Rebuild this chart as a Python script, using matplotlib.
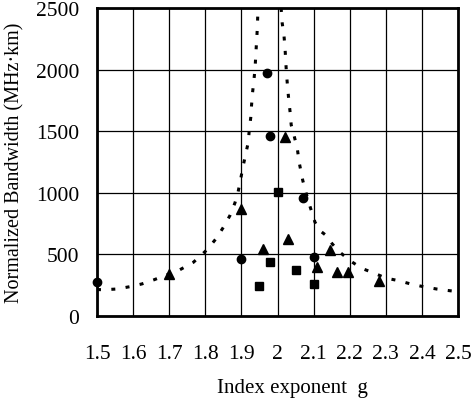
import numpy as np
import matplotlib.pyplot as plt

plt.rcParams['font.family'] = ['Liberation Serif', 'DejaVu Serif']
plt.rcParams['font.size'] = 15.5

# Measured bandwidth, grouped by marker
circle_g = [1.50, 1.90, 1.97, 1.98, 2.07, 2.10]
circle_b = [275, 460, 1975, 1465, 955, 480]

triangle_g = [1.70, 1.90, 1.96, 2.02, 2.03, 2.11, 2.145, 2.165, 2.195, 2.28]
triangle_b = [340, 865, 540, 1450, 622, 395, 535, 360, 360, 285]

square_g = [1.95, 1.98, 2.00, 2.05, 2.10]
square_b = [245, 435, 1005, 375, 260]

# Theoretical curve, left and right of the peak
left_g = [1.500, 1.517, 1.555, 1.591, 1.624, 1.656, 1.700, 1.725, 1.767, 1.785,
          1.806, 1.831, 1.850, 1.868, 1.882, 1.891, 1.898, 1.905, 1.912, 1.919,
          1.922, 1.926, 1.928, 1.931, 1.935, 1.938, 1.940, 1.942, 1.944, 1.946]
left_b = [215, 213, 219, 238, 260, 292, 341, 368, 436, 484,
          541, 632, 720, 814, 917, 1009, 1112, 1220, 1315, 1410,
          1518, 1613, 1707, 1816, 1924, 2019, 2127, 2227, 2330, 2500]

right_g = [2.010, 2.013, 2.018, 2.021, 2.023, 2.025, 2.028, 2.031, 2.035, 2.038,
           2.046, 2.055, 2.060, 2.070, 2.085, 2.104, 2.118, 2.132, 2.152, 2.173,
           2.201, 2.233, 2.267, 2.300, 2.335, 2.369, 2.404, 2.441, 2.478, 2.500]
right_b = [2500, 2378, 2275, 2167, 2059, 1964, 1856, 1761, 1653, 1550,
           1463, 1356, 1248, 1100, 936, 760, 692, 660, 584, 517,
           449, 387, 349, 308, 287, 260, 238, 219, 205, 198]

x_ticks = [1.5, 1.6, 1.7, 1.8, 1.9, 2.0, 2.1, 2.2, 2.3, 2.4, 2.5]
x_labels = ['1.5', '1.6', '1.7', '1.8', '1.9', '2', '2.1', '2.2', '2.3', '2.4', '2.5']
y_ticks = [0, 500, 1000, 1500, 2000, 2500]

fig = plt.figure(figsize=(4.73, 4.02), dpi=100)
ax = fig.add_axes([97 / 473, 85 / 402, 361 / 473, 308 / 402])

dots = (0, (1.3, 3.4))
ax.plot(left_g, left_b, color='black', lw=2.2, linestyle=dots, zorder=3)
ax.plot(right_g, right_b, color='black', lw=2.2, linestyle=dots, zorder=3)

ax.plot(circle_g, circle_b, 'o', color='black', ms=6, zorder=4, clip_on=False)
ax.plot(triangle_g, triangle_b, '^', color='black', ms=6.5, zorder=4, clip_on=False)
ax.plot(square_g, square_b, 's', color='black', ms=6, zorder=4, clip_on=False)

ax.set_xlim(1.5, 2.5)
ax.set_ylim(0, 2500)
ax.set_xticks(x_ticks)
ax.set_xticklabels(x_labels)
ax.set_yticks(y_ticks)
ax.grid(True, color='black', lw=0.9)
ax.set_axisbelow(True)
ax.tick_params(length=0)
ax.tick_params(axis='x', pad=20)
ax.tick_params(axis='y', pad=13)
for s in ax.spines.values():
    s.set_linewidth(2)

ax.set_xlabel('Index exponent  g', fontsize=15)
ax.set_ylabel('Normalized Bandwidth (MHz·km)', labelpad=8, fontsize=14.5)
ax.xaxis.set_label_coords(0.54, -0.2)

fig.savefig('out.png', dpi=100)
